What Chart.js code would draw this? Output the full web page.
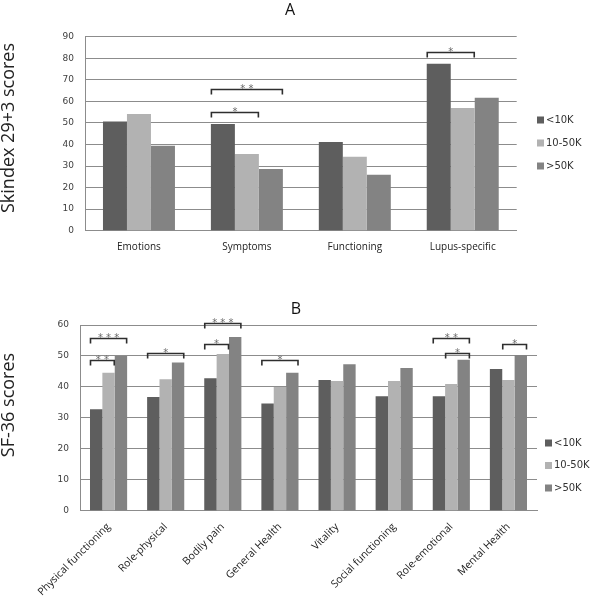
<!DOCTYPE html>
<html>
<head>
<meta charset="utf-8">
<script src="https://cdn.jsdelivr.net/npm/chart.js@4.4.1/dist/chart.umd.min.js"></script>
<style>
  html, body { margin: 0; padding: 0; background: #fff; }
  #wrap { position: relative; width: 590px; height: 600px; }
  canvas { position: absolute; left: 0; }
  #chartA { top: 0; }
  #chartB { top: 280px; }
</style>
</head>
<body>
<div id="wrap">
  <canvas id="chartA" width="590" height="262"></canvas>
  <canvas id="chartB" width="590" height="320"></canvas>
</div>
<script>
// serie comuni
const seriesLabels = ['<10K', '10-50K', '>50K'];
const seriesColors = ['#5e5e5e', '#b2b2b2', '#838383'];

// A — Skindex 29+3
const catsA = ['Emotions', 'Symptoms', 'Functioning', 'Lupus-specific'];
const lowA  = [50.7, 49.5, 41.1, 77.5];
const midA  = [54.1, 35.6, 34.3, 56.9];
const highA = [39.4, 28.6, 26.0, 61.7];
// [categoria, serie da, serie a, quota, etichetta]
const sigA = [
    [1, 0, 1, 55.0, '*'],
    [1, 0, 2, 65.7, '**'],
    [3, 0, 1, 83.0, '*']
];

// B — SF-36
const catsB = ['Physical functioning', 'Role-physical', 'Bodily pain', 'General Health',
               'Vitality', 'Social functioning', 'Role-emotional', 'Mental Health'];
const lowB  = [32.8, 36.7, 42.8, 34.6, 42.2, 37.0, 37.0, 45.8];
const midB  = [44.6, 42.5, 50.6, 40.0, 41.9, 41.9, 40.9, 42.2];
const highB = [50.0, 47.9, 56.1, 44.6, 47.3, 46.1, 48.8, 50.3];
const sigB = [
    [0, 0, 1, 48.7, '**'],
    [0, 0, 2, 55.7, '***'],
    [1, 0, 2, 51.0, '*'],
    [2, 0, 1, 53.8, '*'],
    [2, 0, 2, 60.7, '***'],
    [3, 0, 2, 48.7, '*'],
    [6, 0, 2, 55.7, '**'],
    [6, 1, 2, 51.0, '*'],
    [7, 1, 2, 53.8, '*']
];

const GRID = '#8c8c8c';

// parentesi di significatività sopra le barre
const bracketsPlugin = {
    id: 'brackets',
    afterDatasetsDraw(chart, args, opts) {
        const ctx = chart.ctx;
        const ys = chart.scales.y;
        ctx.save();
        (opts.items || []).forEach(([cat, from, to, val, label]) => {
            const a = chart.getDatasetMeta(from).data[cat];
            const b = chart.getDatasetMeta(to).data[cat];
            const x0 = a.x - a.width / 2 + 0.5;
            const x1 = b.x + b.width / 2 - 0.5;
            const py = Math.round(ys.getPixelForValue(val)) + 0.5;
            ctx.strokeStyle = '#2e2e2e';
            ctx.lineWidth = 1.6;
            ctx.beginPath();
            ctx.moveTo(x0, py + 5);
            ctx.lineTo(x0, py);
            ctx.lineTo(x1, py);
            ctx.lineTo(x1, py + 5);
            ctx.stroke();
            ctx.fillStyle = '#6a6a6a';
            ctx.font = '10px "DejaVu Sans"';
            ctx.textAlign = 'center';
            ctx.textBaseline = 'alphabetic';
            ctx.fillText(label.split('').join(' '), (x0 + x1) / 2, py + 2);
        });
        ctx.restore();
    }
};

// legenda laterale
const sideLegend = {
    id: 'sideLegend',
    afterDraw(chart, args, opts) {
        const ctx = chart.ctx;
        ctx.save();
        ctx.font = '10px "DejaVu Sans"';
        ctx.textBaseline = 'middle';
        ctx.textAlign = 'left';
        chart.data.datasets.forEach((ds, i) => {
            const cy = opts.y + i * opts.gap;
            ctx.fillStyle = ds.backgroundColor;
            ctx.fillRect(opts.x, cy - 3.5, 7, 7);
            ctx.fillStyle = '#333';
            ctx.fillText(ds.label, opts.x + 9, cy);
        });
        ctx.restore();
    }
};

// titolo del pannello e titolo asse y ruotato
const panelTexts = {
    id: 'panelTexts',
    afterDraw(chart, args, opts) {
        const ctx = chart.ctx;
        ctx.save();
        ctx.fillStyle = '#111';
        ctx.textAlign = 'center';
        ctx.textBaseline = 'middle';
        ctx.font = '16px "Open Sans"';
        ctx.fillText(opts.title, opts.titleX, opts.titleY);
        ctx.translate(opts.yX, opts.yY);
        ctx.rotate(-Math.PI / 2);
        ctx.fillStyle = '#222';
        ctx.font = '18px "Open Sans"';
        ctx.fillText(opts.yText, 0, 0);
        ctx.restore();
    }
};

function makeChart(id, cats, low, mid, high, sig, cfg) {
    const vals = [low, mid, high];
    return new Chart(document.getElementById(id), {
        type: 'bar',
        data: {
            labels: cats,
            datasets: vals.map((v, i) => ({
                label: seriesLabels[i],
                data: v,
                backgroundColor: seriesColors[i],
                borderWidth: 0,
                categoryPercentage: cfg.catPct,
                barPercentage: 1.0
            }))
        },
        plugins: [bracketsPlugin, sideLegend, panelTexts],
        options: {
            responsive: false,
            animation: false,
            layout: { padding: { left: 0, right: cfg.padRight, top: cfg.padTop, bottom: 0 } },
            plugins: {
                legend: { display: false },
                tooltip: { enabled: false },
                title: { display: false },
                brackets: { items: sig },
                sideLegend: cfg.legend,
                panelTexts: cfg.texts
            },
            scales: {
                x: {
                    grid: { display: false, drawTicks: false },
                    border: { display: true, color: GRID },
                    ticks: {
                        color: '#222',
                        font: { family: 'Open Sans', size: cfg.xFont },
                        padding: cfg.xPad,
                        autoSkip: false,
                        maxRotation: cfg.rot,
                        minRotation: cfg.rot
                    },
                    afterFit: s => { s.height = cfg.xHeight; }
                },
                y: {
                    min: 0,
                    max: cfg.max,
                    ticks: {
                        stepSize: 10,
                        color: '#404040',
                        font: { family: 'DejaVu Sans', size: 9 },
                        padding: 11
                    },
                    grid: { color: GRID, drawTicks: false },
                    border: { display: true, color: GRID },
                    afterFit: s => { s.width = cfg.yWidth; }
                }
            }
        }
    });
}

makeChart('chartA', catsA, lowA, midA, highA, sigA, {
    padTop: 36.7,
    catPct: 0.667,
    padRight: 73.3,
    yWidth: 85,
    xHeight: 31.3,
    xPad: 10,
    xFont: 10,
    rot: 0,
    max: 90,
    legend: { x: 537, y: 120, gap: 23 },
    texts: { title: 'A', titleX: 290, titleY: 10, yText: 'Skindex 29+3 scores', yX: 9, yY: 128 }
});

makeChart('chartB', catsB, lowB, midB, highB, sigB, {
    padTop: 45,
    catPct: 0.65,
    padRight: 53,
    yWidth: 80,
    xHeight: 89.3,
    xPad: 10,
    xFont: 10.5,
    rot: 45,
    max: 60,
    legend: { x: 545, y: 163, gap: 22.5 },
    texts: { title: 'B', titleX: 296, titleY: 29, yText: 'SF-36 scores', yX: 9, yY: 125 }
});
</script>
</body>
</html>
